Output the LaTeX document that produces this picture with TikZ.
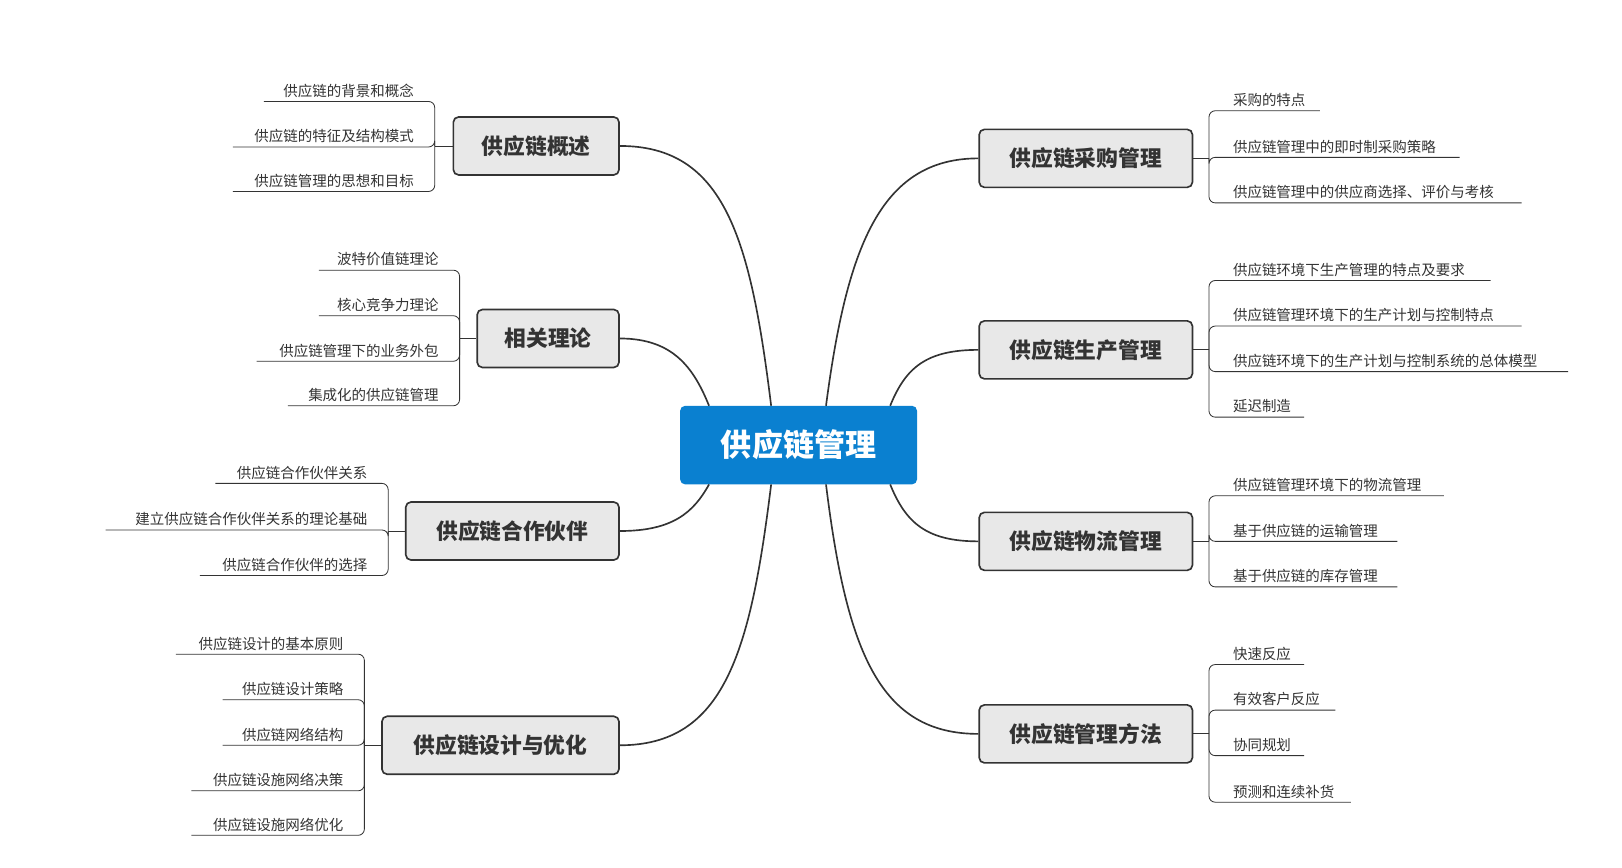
\documentclass[tikz,border=0pt]{standalone}
\usepackage{fontspec}
\setmainfont{Noto Sans CJK SC}
\definecolor{ink}{HTML}{333333}
\definecolor{blu}{HTML}{0A80D0}
\begin{document}
\begin{tikzpicture}[x=1pt,y=-1pt,
  br/.style={draw=ink,fill=black!9,line width=1.6pt,rounded corners=5pt,text=ink,font=\fontsize{21}{21}\selectfont\bfseries,inner sep=0pt},
  lf/.style={text=ink,font=\fontsize{14}{14}\selectfont,inner sep=0pt},
  ln/.style={draw=ink,line width=0.8pt},
  cv/.style={draw=ink,line width=1.6pt}]
\useasboundingbox (0,0) rectangle (1567,838);
\node[fill=blu,rounded corners=5pt,minimum width=229pt,minimum height=76pt,text=white,font=\fontsize{30}{30}\selectfont\bfseries] (c) at (771.5,430) {供应链管理};
% left boxes
\node[br,minimum width=160pt,minimum height=56pt] (L1) at (518,141) {供应链概述};
\node[br,minimum width=137pt,minimum height=56pt] (L2) at (529.5,327) {相关理论};
\node[br,minimum width=206pt,minimum height=56pt] (L3) at (495,513) {供应链合作伙伴};
\node[br,minimum width=229pt,minimum height=56pt] (L4) at (483.5,720) {供应链设计与优化};
% right boxes
\node[br,minimum width=206pt,minimum height=56pt] (R1) at (1049,153) {供应链采购管理};
\node[br,minimum width=206pt,minimum height=56pt] (R2) at (1049,338) {供应链生产管理};
\node[br,minimum width=206pt,minimum height=56pt] (R3) at (1049,523) {供应链物流管理};
\node[br,minimum width=206pt,minimum height=56pt] (R4) at (1049,709) {供应链管理方法};
% curves
\coordinate (ca) at (745,392); \coordinate (cb) at (685,392);
\coordinate (cc) at (685,468); \coordinate (cd) at (745,468);
\coordinate (ce) at (798,392); \coordinate (cf) at (860,392);
\coordinate (cg) at (860,468); \coordinate (ch) at (798,468);
\draw[cv] (ca) .. controls (725,230) and (700,141) .. (L1.east);
\draw[cv] (cb) .. controls (670,355) and (650,327) .. (L2.east);
\draw[cv] (cc) .. controls (670,495) and (650,513) .. (L3.east);
\draw[cv] (cd) .. controls (725,630) and (700,720) .. (L4.east);
\draw[cv] (ce) .. controls (818,240) and (850,153) .. (R1.west);
\draw[cv] (cf) .. controls (875,355) and (895,338) .. (R2.west);
\draw[cv] (cg) .. controls (875,505) and (895,523) .. (R3.west);
\draw[cv] (ch) .. controls (818,630) and (850,709) .. (R4.west);
% left leaves: bracket x, box, list of {text/underline y/left}
\newcommand{\lleaf}[5]{% name, bx, cy, uy, left, text in #6
}
\def\LL#1#2#3#4#5#6{%
  \node[lf,anchor=base east] (#1) at (#2-20,#4-5) {#6};
  \draw[ln,rounded corners=6pt] (#5,#4) -- (#2,#4) -- (#2,#3);}
\def\RR#1#2#3#4#5#6{%
  \node[lf,anchor=base west] (#1) at (1191,#4-5) {#6};
  \draw[ln,rounded corners=6pt] (#5,#4) -- (#2,#4) -- (#2,#3);}
\LL{a1}{420}{141}{98}{255}{供应链的背景和概念}
\LL{a2}{420}{141}{142}{225}{供应链的特征及结构模式}
\LL{a3}{420}{141}{185}{225}{供应链管理的思想和目标}
\draw[ln] (420,141) -- (L1.west);
\LL{b1}{444}{327}{261}{308}{波特价值链理论}
\LL{b2}{444}{327}{305}{308}{核心竞争力理论}
\LL{b3}{444}{327}{349}{248}{供应链管理下的业务外包}
\LL{b4}{444}{327}{392}{278}{集成化的供应链管理}
\draw[ln] (444,327) -- (L2.west);
\LL{d1}{375}{513}{467}{208}{供应链合作伙伴关系}
\LL{d2}{375}{513}{512}{102}{建立供应链合作伙伴关系的理论基础}
\LL{d3}{375}{513}{556}{193}{供应链合作伙伴的选择}
\draw[ln] (375,513) -- (L3.west);
\LL{e1}{352}{720}{632}{170}{供应链设计的基本原则}
\LL{e2}{352}{720}{676}{215}{供应链设计策略}
\LL{e3}{352}{720}{720}{215}{供应链网络结构}
\LL{e4}{352}{720}{764}{185}{供应链设施网络决策}
\LL{e5}{352}{720}{807}{185}{供应链设施网络优化}
\draw[ln] (352,720) -- (L4.west);
% right leaves
\RR{f1}{1168}{153}{107}{1275}{采购的特点}
\RR{f2}{1168}{153}{152}{1410}{供应链管理中的即时制采购策略}
\RR{f3}{1168}{153}{196}{1470}{供应链管理中的供应商选择、评价与考核}
\draw[ln] (1168,153) -- (R1.east);
\RR{g1}{1168}{338}{271}{1440}{供应链环境下生产管理的特点及要求}
\RR{g2}{1168}{338}{315}{1470}{供应链管理环境下的生产计划与控制特点}
\RR{g3}{1168}{338}{359}{1515}{供应链环境下的生产计划与控制系统的总体模型}
\RR{g4}{1168}{338}{403}{1260}{延迟制造}
\draw[ln] (1168,338) -- (R2.east);
\RR{h1}{1168}{523}{479}{1395}{供应链管理环境下的物流管理}
\RR{h2}{1168}{523}{523}{1350}{基于供应链的运输管理}
\RR{h3}{1168}{523}{567}{1350}{基于供应链的库存管理}
\draw[ln] (1168,523) -- (R3.east);
\RR{k1}{1168}{709}{642}{1260}{快速反应}
\RR{k2}{1168}{709}{686}{1290}{有效客户反应}
\RR{k3}{1168}{709}{730}{1260}{协同规划}
\RR{k4}{1168}{709}{775}{1305}{预测和连续补货}
\draw[ln] (1168,709) -- (R4.east);
\end{tikzpicture}
\end{document}
